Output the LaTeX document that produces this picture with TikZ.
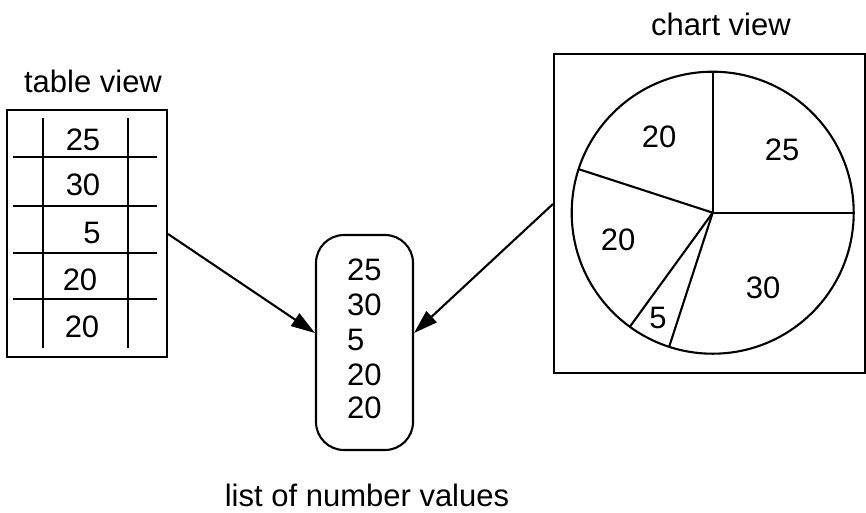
\documentclass[tikz,border=0pt]{standalone}
\usepackage{fontspec}
\setmainfont{Liberation Sans}
\usetikzlibrary{arrows.meta}
\begin{document}
\begin{tikzpicture}[x=1pt,y=-1pt,
  line width=2.1pt,
  lbl/.style={inner sep=0pt, anchor=base, font=\fontsize{31}{37}\selectfont},
  listval/.style={lbl, anchor=base west},
  viewbox/.style={draw, line width=2.1pt, inner sep=0pt},
  flow/.style={-{Triangle[length=24pt,width=15pt]}, line width=2.1pt}]
\useasboundingbox (0,0) rectangle (866,512);

% ---- table view ----
\node[viewbox, minimum width=160pt, minimum height=247pt] (table) at (87,233.5) {};
\draw (43,118) -- (43,348);
\draw (128,118) -- (128,348);
\foreach \yy in {157,206,253,299} \draw (13,\yy) -- (157,\yy);
\node[lbl] (t1) at (83,150) {25};
\node[lbl] (t2) at (83,195) {30};
\node[lbl] (t3) at (92,243) {5};
\node[lbl] (t4) at (80,290) {20};
\node[lbl] (t5) at (82,337) {20};
\node[lbl] (tabletitle) at (93,92) {table view};

% ---- list of values ----
\node[viewbox, rounded corners=28pt, minimum width=97pt, minimum height=215pt] (list) at (364.5,342.5) {};
\node[listval] (l1) at (346,280) {25};
\node[listval] (l2) at (346,315) {30};
\node[listval] (l3) at (346,350) {5};
\node[listval] (l4) at (346,385) {20};
\node[listval] (l5) at (346,418) {20};
\node[lbl] (listtitle) at (367,506) {list of number values};

% ---- chart view ----
\node[viewbox, minimum width=311pt, minimum height=319pt] (chart) at (709.5,213.5) {};
\coordinate (pc) at (712.7,212.7);
\begin{scope}[shift={(pc)}, yscale=-1]
  \draw (0,0) circle[radius=141];
  \foreach \a in {0,90,162,234,252} \draw (0,0) -- (\a:141);
\end{scope}
\node[lbl] (c1) at (659,147) {20};
\node[lbl] (c2) at (782,160) {25};
\node[lbl] (c3) at (618,250) {20};
\node[lbl] (c4) at (763,298) {30};
\node[lbl] (c5) at (658,328) {5};
\node[lbl] (charttitle) at (721,35) {chart view};

% ---- connectors ----
\coordinate (tabout) at (table.east |- 0,234);
\coordinate (listinL) at (list.west |- 0,333);
\coordinate (chartout) at (chart.west |- 0,204);
\coordinate (listinR) at (list.east |- 0,333);
\draw[flow] (tabout) -- (listinL);
\draw[flow] (chartout) -- (listinR);
\end{tikzpicture}
\end{document}
